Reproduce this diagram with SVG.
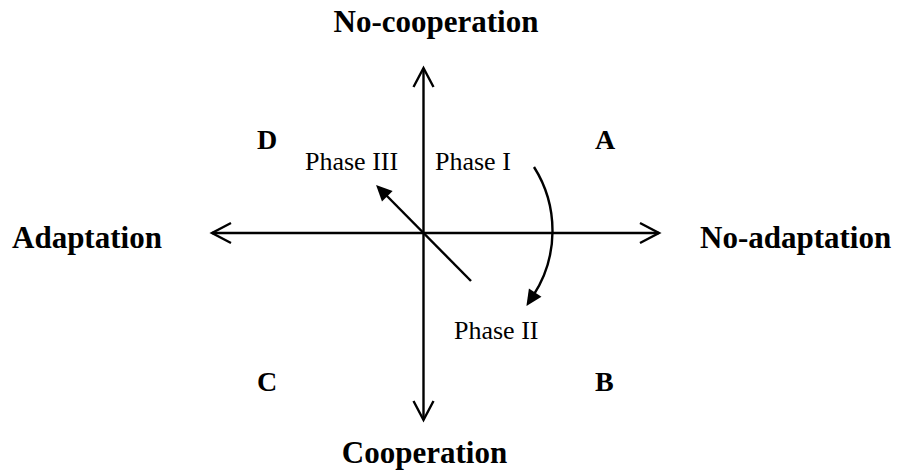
<svg xmlns="http://www.w3.org/2000/svg" width="900" height="474" viewBox="0 0 900 474">
  <style>
    .axis { font-family: "Liberation Serif", "Times New Roman", serif; font-weight: bold; font-size: 31px; fill: #000; }
    .quad { font-family: "Liberation Serif", "Times New Roman", serif; font-weight: bold; font-size: 28px; fill: #000; }
    .phase { font-family: "Liberation Serif", "Times New Roman", serif; font-size: 26px; fill: #000; }
    .line { stroke: #000; stroke-width: 2.4; fill: none; }
  </style>
  <defs>
    <marker id="open" markerUnits="userSpaceOnUse" viewBox="-24 -14 28 28" markerWidth="28" markerHeight="28" refX="0" refY="0" orient="auto-start-reverse" overflow="visible">
      <path d="M-19,-10 L0,0 L-19,10" fill="none" stroke="#000" stroke-width="2.4"/>
    </marker>
    <marker id="solid" markerUnits="userSpaceOnUse" viewBox="-6 -10 20 20" markerWidth="20" markerHeight="20" refX="0" refY="0" orient="auto" overflow="visible">
      <path d="M-4,-7.5 L12,0 L-4,7.5 Z" fill="#000"/>
    </marker>
  </defs>

  <g id="connectors">
    <line id="v-axis" class="line" x1="423.5" y1="68" x2="423.5" y2="420" marker-start="url(#open)" marker-end="url(#open)"/>
    <line id="h-axis" class="line" x1="212" y1="233" x2="659" y2="233" marker-start="url(#open)" marker-end="url(#open)"/>
    <line id="phase3-arrow" class="line" x1="471" y1="281" x2="384.5" y2="193.5" marker-end="url(#solid)"/>
    <path id="phase1-arrow" class="line" d="M534,167 A119,119 0 0 1 533,296" marker-end="url(#solid)"/>
  </g>

  <g id="label-no-cooperation"><text class="axis" x="436" y="32" text-anchor="middle">No-cooperation</text></g>
  <g id="label-cooperation"><text class="axis" x="424.5" y="463" text-anchor="middle">Cooperation</text></g>
  <g id="label-adaptation"><text class="axis" x="12" y="248">Adaptation</text></g>
  <g id="label-no-adaptation"><text class="axis" x="700" y="248">No-adaptation</text></g>

  <g id="quad-D"><text class="quad" x="257" y="149">D</text></g>
  <g id="quad-A"><text class="quad" x="595" y="149">A</text></g>
  <g id="quad-C"><text class="quad" x="257" y="391">C</text></g>
  <g id="quad-B"><text class="quad" x="595" y="391">B</text></g>

  <g id="phase-III"><text class="phase" x="305" y="170">Phase III</text></g>
  <g id="phase-I"><text class="phase" x="435" y="170">Phase I</text></g>
  <g id="phase-II"><text class="phase" x="454" y="339">Phase II</text></g>
</svg>
